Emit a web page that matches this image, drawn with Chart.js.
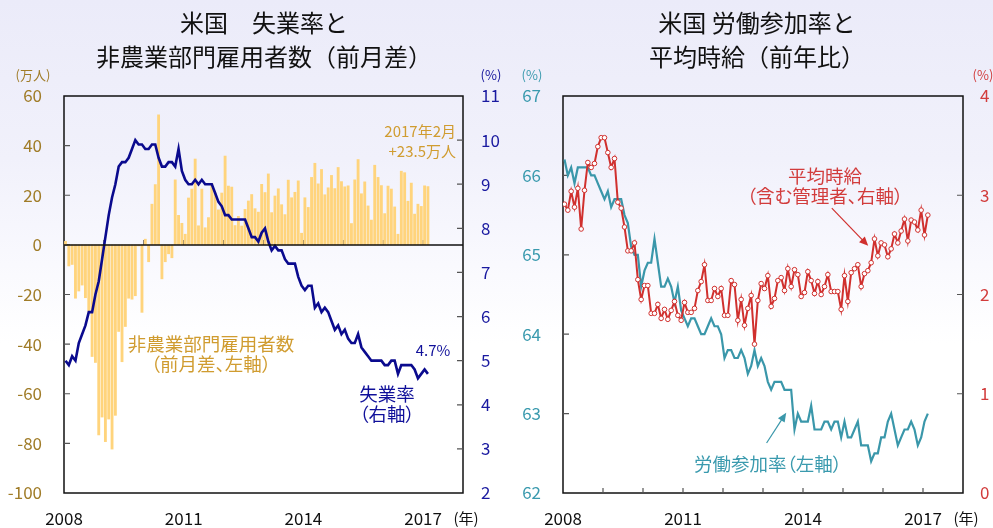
<!DOCTYPE html>
<html><head><meta charset="utf-8">
<script src="https://cdn.jsdelivr.net/npm/chart.js@4.4.1/dist/chart.umd.min.js"></script>
<style>
html,body{margin:0;padding:0;}
body{width:993px;height:528px;position:relative;overflow:hidden;
 background:linear-gradient(to bottom,#ebebf9 0%,#f1f1fb 30%,#f9f9fe 50%,#ffffff 65%);
 font-family:'Noto Sans CJK JP','Noto Sans',sans-serif;}
canvas{position:absolute;top:0;}
#cA{left:0;} #cB{left:500px;}
.t{position:absolute;white-space:nowrap;line-height:1;transform:translate(-50%,-50%);}
.r{position:absolute;white-space:nowrap;line-height:1;transform:translate(-100%,-50%);text-align:right;}
.title{font-size:24px;color:#111;}
.unit{font-size:13px;}
.ann{font-size:18.5px;font-feature-settings:"palt";}
.gold{color:#d09c30;} .navy{color:#10109a;} .teal{color:#3a9aae;} .red{color:#d23c3c;}
</style></head>
<body>
<canvas id="cA" width="510" height="528" style="width:510px;height:528px"></canvas>
<canvas id="cB" width="493" height="528" style="width:493px;height:528px"></canvas>

<div class="t title" style="left:264px;top:22px">米国　失業率と</div>
<div class="t title" style="left:264px;top:56px">非農業部門雇用者数（前月差）</div>
<div class="t title" style="left:757px;top:22px">米国 労働参加率と</div>
<div class="t title" style="left:757px;top:56px">平均時給（前年比）</div>

<div class="t unit" style="left:33px;top:74px;color:#a07c28">(万人)</div>
<div class="t unit navy" style="left:491px;top:74px">(%)</div>
<div class="t unit teal" style="left:532px;top:74px">(%)</div>
<div class="t unit red" style="left:983px;top:74px">(%)</div>
<div class="t" style="left:466px;top:517px;font-size:15px;color:#111">(年)</div>
<div class="t" style="left:966px;top:517px;font-size:15px;color:#111">(年)</div>

<div class="r gold" style="left:456px;top:130px;font-size:15px">2017年2月</div>
<div class="r gold" style="left:456px;top:150px;font-size:15px">+23.5万人</div>
<div class="t ann gold" style="left:211px;top:343px">非農業部門雇用者数</div>
<div class="t ann gold" style="left:211px;top:363px">（前月差、左軸）</div>
<div class="t navy" style="left:433px;top:349px;font-size:15px">4.7%</div>
<div class="t ann navy" style="left:387px;top:393px">失業率</div>
<div class="t ann navy" style="left:387px;top:413px">（右軸）</div>
<div class="t ann red" style="left:825px;top:175px">平均時給</div>
<div class="t ann red" style="left:825px;top:195px">（含む管理者、右軸）</div>
<div class="t ann teal" style="left:768px;top:463px">労働参加率（左軸）</div>

<script>
// ---- data (monthly, 2008-01 .. 2017-02) ----
const startYear = 2008;
const payrollChange = [ // 万人, 前月差
  1.4, -8.5, -7.9, -21.5, -18.6, -16.2, -21.3, -26.7, -45.0, -47.4, -76.6, -69.4,
  -79.3, -70.2, -82.3, -68.7, -34.9, -47.1, -32.9, -21.5, -21.9, -20.5, -0.4, -27.2,
  2.3, -6.8, 16.4, 24.3, 52.4, -13.7, -6.8, -3.6, -5.2, 26.2, 11.9, 8.7,
  4.3, 18.9, 22.5, 34.6, 7.7, 22.5, 6.9, 11.0, 24.8, 20.9, 14.1, 20.9,
  35.8, 23.7, 23.3, 7.8, 11.5, 7.6, 14.3, 17.7, 20.3, 14.6, 13.2, 24.4,
  21.1, 28.6, 13.0, 19.7, 22.6, 16.2, 12.2, 26.1, 19.0, 21.2, 25.8, 4.7,
  19.0, 15.1, 27.2, 32.9, 24.6, 30.4, 20.2, 23.0, 28.0, 22.7, 31.2, 25.5,
  23.4, 23.8, 8.6, 26.2, 34.4, 20.6, 25.4, 15.7, 10.0, 32.1, 27.2, 23.9,
  12.6, 23.7, 22.5, 15.3, 4.3, 29.7, 29.1, 17.6, 24.9, 12.4, 16.4, 15.5,
  23.8, 23.5
];
const unemploymentRate = [ // %
  5.0, 4.9, 5.1, 5.0, 5.4, 5.6, 5.8, 6.1, 6.1, 6.5, 6.8, 7.3,
  7.8, 8.3, 8.7, 9.0, 9.4, 9.5, 9.5, 9.6, 9.8, 10.0, 9.9, 9.9,
  9.8, 9.8, 9.9, 9.9, 9.6, 9.4, 9.4, 9.5, 9.5, 9.4, 9.8, 9.3,
  9.1, 9.0, 9.0, 9.1, 9.0, 9.1, 9.0, 9.0, 9.0, 8.8, 8.6, 8.5,
  8.3, 8.3, 8.2, 8.2, 8.2, 8.2, 8.2, 8.0, 7.8, 7.8, 7.7, 7.9,
  8.0, 7.7, 7.5, 7.6, 7.5, 7.5, 7.3, 7.2, 7.2, 7.2, 6.9, 6.7,
  6.6, 6.7, 6.7, 6.2, 6.3, 6.1, 6.2, 6.1, 5.9, 5.7, 5.8, 5.6,
  5.7, 5.5, 5.4, 5.4, 5.6, 5.3, 5.2, 5.1, 5.0, 5.0, 5.0, 5.0,
  4.9, 4.9, 5.0, 5.0, 4.7, 4.9, 4.9, 4.9, 4.9, 4.8, 4.6, 4.7,
  4.8, 4.7
];
const participationRate = [ // %
  66.2, 66.0, 66.1, 65.9, 66.1, 66.1, 66.1, 66.1, 66.0, 66.0, 65.9, 65.8,
  65.7, 65.8, 65.6, 65.7, 65.7, 65.7, 65.5, 65.4, 65.1, 65.0, 65.0, 64.6,
  64.8, 64.9, 64.9, 65.2, 64.9, 64.6, 64.6, 64.7, 64.6, 64.4, 64.6, 64.3,
  64.2, 64.1, 64.2, 64.2, 64.1, 64.0, 64.0, 64.1, 64.2, 64.1, 64.1, 64.0,
  63.7, 63.8, 63.8, 63.7, 63.7, 63.8, 63.7, 63.5, 63.6, 63.8, 63.6, 63.7,
  63.6, 63.4, 63.3, 63.4, 63.4, 63.4, 63.3, 63.3, 63.3, 62.8, 63.0, 62.9,
  62.9, 62.9, 63.1, 62.8, 62.8, 62.8, 62.9, 62.9, 62.8, 62.9, 62.9, 62.7,
  62.9, 62.7, 62.7, 62.8, 62.9, 62.6, 62.6, 62.6, 62.4, 62.5, 62.5, 62.7,
  62.7, 62.9, 63.0, 62.8, 62.6, 62.7, 62.8, 62.8, 62.9, 62.8, 62.6, 62.7,
  62.9, 63.0
];
const hourlyEarningsYoY = [ // %, 前年比
  2.91, 2.85, 3.04, 2.88, 3.07, 2.66, 3.05, 3.33, 3.28, 3.32, 3.49, 3.58,
  3.58, 3.43, 3.28, 3.37, 2.93, 2.87, 2.68, 2.44, 2.44, 2.52, 2.15, 1.95,
  2.09, 2.09, 1.81, 1.81, 1.90, 1.76, 1.85, 1.75, 1.84, 1.93, 1.79, 1.74,
  1.92, 1.82, 1.82, 1.86, 2.04, 2.13, 2.30, 1.94, 1.94, 2.06, 1.98, 2.06,
  1.79, 1.79, 2.14, 2.10, 1.74, 1.95, 1.69, 1.86, 1.99, 1.50, 1.94, 2.11,
  2.06, 2.19, 1.88, 1.96, 2.14, 2.17, 2.04, 2.26, 2.08, 2.25, 2.20, 1.98,
  2.02, 2.23, 2.14, 2.01, 2.13, 2.00, 2.08, 2.20, 2.03, 2.03, 2.03, 1.85,
  2.19, 1.93, 2.22, 2.26, 2.30, 2.08, 2.21, 2.24, 2.32, 2.56, 2.39, 2.52,
  2.50, 2.38, 2.46, 2.61, 2.52, 2.64, 2.76, 2.54, 2.75, 2.73, 2.65, 2.85,
  2.60, 2.80
];
const yearTickLabels = [2008, 2011, 2014, 2017];
const yearTickMarks = [2009, 2010, 2011, 2012, 2013, 2014, 2015, 2016, 2017];
const payrollAxis = {min: -100, max: 60, step: 20};
const unempAxis = {min: 2, max: 11, step: 1};
const lfprAxis = {min: 62, max: 67, step: 1};
const aheAxis = {min: 0, max: 4, step: 1};

// month categories
const months = payrollChange.map((_, i) => `${startYear + Math.floor(i / 12)}-${String(i % 12 + 1).padStart(2, '0')}`);
const monthPos = months.map(m => { const [y, mo] = m.split('-').map(Number); return y + (mo - 1 + 0.45) / 12; });
const pts = arr => arr.map((v, i) => ({x: monthPos[i], y: v}));

Chart.defaults.font.family = "'Noto Sans CJK JP','Noto Sans',sans-serif";
Chart.defaults.font.size = 17;
Chart.defaults.animation = false;

const TICK = '#555';
const framePlugin = {
  id: 'frame',
  beforeDatasetsDraw(chart, args, o) {
    const {ctx, chartArea: a, scales} = chart;
    ctx.save();
    ctx.strokeStyle = '#111'; ctx.lineWidth = 1.5;
    ctx.strokeRect(a.left, a.top, a.right - a.left, a.bottom - a.top);
    let yx = a.bottom;
    if (o.zeroLine) {
      yx = scales.y.getPixelForValue(0);
    }
    ctx.strokeStyle = TICK; ctx.lineWidth = 1.2;
    ctx.beginPath();
    for (const yr of yearTickMarks) {
      const px = scales.x.getPixelForValue(yr);
      ctx.moveTo(px, yx); ctx.lineTo(px, yx - 5);
    }
    for (const v of o.leftTicks) {
      const py = scales.y.getPixelForValue(v);
      ctx.moveTo(a.left, py); ctx.lineTo(a.left + 6, py);
    }
    for (const v of o.rightTicks) {
      const py = scales.y1.getPixelForValue(v);
      ctx.moveTo(a.right - 6, py); ctx.lineTo(a.right, py);
    }
    ctx.stroke();
    ctx.restore();
  },
  afterDatasetsDraw(chart, args, o) {
    const {ctx, chartArea: a, scales} = chart;
    if (o.zeroLine) {
      ctx.save();
      ctx.strokeStyle = '#111'; ctx.lineWidth = 1.5;
      const y0 = scales.y.getPixelForValue(0);
      ctx.beginPath(); ctx.moveTo(a.left, y0); ctx.lineTo(a.right, y0); ctx.stroke();
      ctx.restore();
    }
    if (o.arrows) {
      ctx.save();
      for (const ar of o.arrows) {
        const sy = scales[ar.axis];
        const x1 = scales.x.getPixelForValue(ar.from[0]), y1 = sy.getPixelForValue(ar.from[1]);
        const x2 = scales.x.getPixelForValue(ar.to[0]), y2 = sy.getPixelForValue(ar.to[1]);
        const ang = Math.atan2(y2 - y1, x2 - x1);
        ctx.strokeStyle = ar.color; ctx.fillStyle = ar.color; ctx.lineWidth = 1.2;
        ctx.beginPath(); ctx.moveTo(x1, y1);
        ctx.lineTo(x2 - 7 * Math.cos(ang), y2 - 7 * Math.sin(ang)); ctx.stroke();
        ctx.beginPath(); ctx.moveTo(x2, y2);
        ctx.lineTo(x2 - 9 * Math.cos(ang) + 4 * Math.sin(ang), y2 - 9 * Math.sin(ang) - 4 * Math.cos(ang));
        ctx.lineTo(x2 - 9 * Math.cos(ang) - 4 * Math.sin(ang), y2 - 9 * Math.sin(ang) + 4 * Math.cos(ang));
        ctx.closePath(); ctx.fill();
      }
      ctx.restore();
    }
  }
};

function xScale() {
  return {
    type: 'linear', min: 2008, max: 2018, offset: false,
    grid: {display: false, drawTicks: false}, border: {display: false},
    afterBuildTicks: s => { s.ticks = yearTickLabels.map(v => ({value: v})); },
    ticks: {color: '#111', padding: 15, autoSkip: false, maxRotation: 0, callback: v => String(v)},
    afterFit: s => { s.height = 35; }
  };
}
function yScale(ax, pos, color, width, pad) {
  return {
    type: 'linear', position: pos, min: ax.min, max: ax.max,
    grid: {display: false, drawTicks: false}, border: {display: false},
    ticks: {stepSize: ax.step, color: color, padding: pad},
    afterFit: s => { s.width = width; }
  };
}
const steps = (ax) => { const r = []; for (let v = ax.min + ax.step; v < ax.max - 1e-9; v += ax.step) r.push(+v.toFixed(3)); return r; };

new Chart(document.getElementById('cA'), {
  type: 'bar',
  data: {
    datasets: [
      {type: 'line', label: '失業率（右軸）', data: pts(unemploymentRate), yAxisID: 'y1',
       borderColor: '#0a0a8e', borderWidth: 2.6, pointRadius: 0, tension: 0, order: 0},
      {type: 'bar', label: '非農業部門雇用者数（前月差、左軸）', data: pts(payrollChange), yAxisID: 'y',
       backgroundColor: '#ffd47c', barThickness: 2.2, order: 1}
    ]
  },
  options: {
    responsive: false, maintainAspectRatio: false,
    layout: {padding: {top: 96, left: 0, right: 0, bottom: 0}},
    plugins: {legend: {display: false}, tooltip: {enabled: false},
      frame: {zeroLine: true, leftTicks: steps(payrollAxis), rightTicks: steps(unempAxis)}},
    scales: {
      x: xScale(),
      y: yScale(payrollAxis, 'left', '#a07c28', 64, 22),
      y1: yScale(unempAxis, 'right', '#1a1aa0', 47, 18)
    }
  },
  plugins: [framePlugin]
});

new Chart(document.getElementById('cB'), {
  type: 'line',
  data: {
    datasets: [
      {label: '平均時給（含む管理者、右軸）', data: pts(hourlyEarningsYoY), yAxisID: 'y1',
       borderColor: '#d0302e', borderWidth: 2, tension: 0,
       pointRadius: 2.3, pointBorderWidth: 1, pointBackgroundColor: '#ffffff', pointBorderColor: '#d0302e', order: 0},
      {label: '労働参加率（左軸）', data: pts(participationRate), yAxisID: 'y',
       borderColor: '#3a97aa', borderWidth: 2.2, pointRadius: 0, tension: 0, order: 1}
    ]
  },
  options: {
    responsive: false, maintainAspectRatio: false,
    layout: {padding: {top: 96, left: 0, right: 0, bottom: 0}},
    plugins: {legend: {display: false}, tooltip: {enabled: false},
      frame: {zeroLine: false, leftTicks: steps(lfprAxis), rightTicks: steps(aheAxis),
        arrows: [
          {axis: 'y1', from: [2014.72, 2.87], to: [2015.63, 2.49], color: '#d0302e'},
          {axis: 'y', from: [2013.09, 62.63], to: [2013.58, 63.01], color: '#3a97aa'}
        ]}},
    scales: {
      x: xScale(),
      y: yScale(lfprAxis, 'left', '#3a9aae', 63, 22),
      y1: yScale(aheAxis, 'right', '#d23c3c', 30, 17)
    }
  },
  plugins: [framePlugin]
});
</script>
</body></html>
